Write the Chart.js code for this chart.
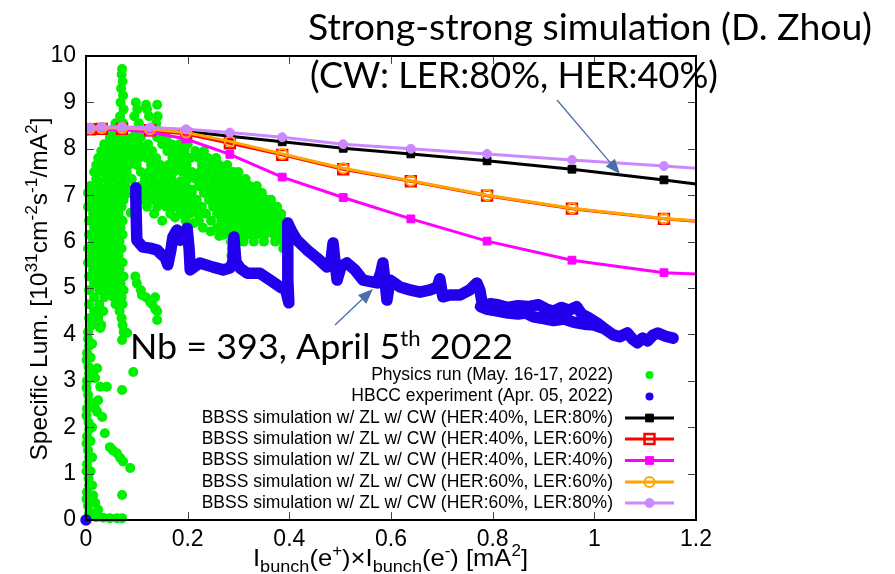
<!DOCTYPE html>
<html>
<head>
<meta charset="utf-8">
<script src="https://cdn.jsdelivr.net/npm/chart.js@4.4.0/dist/chart.umd.min.js"></script>
<style>
html, body { margin: 0; padding: 0; background: #fff; }
</style>
</head>
<body>
<canvas id="lumi" width="895" height="574"></canvas>
<script>
// axis ticks
var xTicks = [0, 0.2, 0.4, 0.6, 0.8, 1.0, 1.2];
var yTicks = [0, 1, 2, 3, 4, 5, 6, 7, 8, 9, 10];

// simulation scan points (bunch current product); last entry is where the curve leaves the frame
var simX = [0.008, 0.031, 0.071, 0.126, 0.197, 0.283, 0.386, 0.506, 0.639, 0.789, 0.956, 1.137, 1.2];
var simH40L80 = [8.45, 8.45, 8.45, 8.43, 8.38, 8.27, 8.15, 8.01, 7.89, 7.74, 7.56, 7.33, 7.24];
var simH40L60 = [8.42, 8.43, 8.43, 8.40, 8.32, 8.12, 7.87, 7.56, 7.30, 6.99, 6.71, 6.49, 6.44];
var simH40L40 = [8.42, 8.42, 8.41, 8.36, 8.21, 7.88, 7.39, 6.95, 6.49, 6.01, 5.60, 5.33, 5.30];
var simH60L60 = [8.44, 8.45, 8.45, 8.42, 8.35, 8.16, 7.89, 7.58, 7.31, 7.00, 6.72, 6.50, 6.45];
var simH60L80 = [8.45, 8.47, 8.47, 8.46, 8.42, 8.35, 8.25, 8.10, 8.00, 7.89, 7.76, 7.63, 7.58];

// HBCC experiment, Apr. 05 2022 (trace of the measured points; null starts a new stretch)
var hbccRun = [
  [0, 0], [0.05, null],
  [0.098, 7.16], [0.098, 6.90], [0.100, 6.03], [0.112, 5.88], [0.126, 5.86], [0.140, 5.82],
  [0.146, 5.75], [0.156, 5.65], [0.161, 5.50], [0.167, 5.82], [0.171, 6.10], [0.179, 6.25],
  [0.185, 6.03], [0.191, 6.14], [0.199, 6.29], [0.203, 5.82], [0.205, 5.39], [0.224, 5.54],
  [0.250, 5.45], [0.270, 5.39], [0.283, 5.43], [0.289, 5.56], [0.291, 6.10], [0.295, 5.56],
  [0.303, 5.43], [0.317, 5.32], [0.342, 5.32], [0.362, 5.17], [0.382, 5.02], [0.393, 4.96],
  [0.399, 4.68], [0.397, 5.17], [0.397, 6.40], [0.405, 6.21], [0.415, 6.03], [0.435, 5.82],
  [0.454, 5.65], [0.474, 5.45], [0.482, 5.60], [0.486, 5.97], [0.490, 5.56], [0.494, 5.17],
  [0.502, 5.47], [0.513, 5.54], [0.529, 5.39], [0.545, 5.17], [0.573, 5.11], [0.580, 5.34],
  [0.584, 5.54], [0.588, 5.17], [0.592, 4.74], [0.598, 5.17], [0.618, 5.02], [0.637, 4.96],
  [0.657, 4.91], [0.677, 4.96], [0.691, 5.02], [0.696, 5.20], [0.702, 4.81], [0.716, 4.85],
  [0.736, 4.85], [0.755, 4.96], [0.769, 5.11], [0.775, 4.95], [0.780, 4.62], [0.795, 4.66],
  [0.810, 4.64], [0.830, 4.58], [0.850, 4.62], [0.870, 4.60], [0.890, 4.64], [0.905, 4.55],
  [0.920, 4.50], [0.935, 4.58], [0.950, 4.52], [0.965, 4.60], [0.975, 4.44], [0.990, 4.35],
  [1.005, 4.25], [1.020, 4.12], [1.037, 3.99], [1.050, 3.95], [1.065, 4.03], [1.075, 3.90],
  [1.085, 3.82], [1.095, 3.92], [1.105, 3.86], [1.115, 3.98], [1.125, 4.03], [1.140, 3.96],
  [1.155, 3.92],
  [1.16, null],
  [0.776, 4.60], [0.790, 4.54], [0.810, 4.50], [0.830, 4.46], [0.850, 4.44], [0.865, 4.46],
  [0.880, 4.38], [0.900, 4.34], [0.920, 4.30], [0.940, 4.33], [0.960, 4.26], [0.980, 4.22],
  [1.000, 4.20], [1.015, 4.14]
];

// Physics run, May 16-17 2022: scattered points
var physicsRun = [
  [0.001, 0.02], [0.004, 0.3], [0.002, 0.6], [0.005, 0.9], [0.002, 1.2], [0.004, 1.5], [0.002, 1.8],
  [0.005, 2.1], [0.002, 2.4], [0.004, 2.7], [0.002, 3.0], [0.005, 3.3], [0.002, 3.6], [0.004, 3.9],
  [0.006, 0.15], [0.001, 0.45], [0.006, 0.75], [0.001, 1.05], [0.006, 1.35], [0.001, 1.65],
  [0.006, 1.95], [0.001, 2.25], [0.006, 2.55], [0.001, 2.85], [0.006, 3.15], [0.001, 3.45],
  [0.006, 3.75],
  [0.009, 0.15], [0.02, 0.06], [0.034, 0.05], [0.047, 0.04], [0.061, 0.04], [0.071, 0.04],
  [0.024, 0.22], [0.018, 0.37], [0.014, 0.53], [0.012, 0.75], [0.008, 0.45], [0.009, 1.05],
  [0.012, 1.35], [0.009, 1.7], [0.012, 2.0], [0.071, 0.54],
  [0.022, 2.33], [0.032, 2.22], [0.024, 2.58], [0.014, 2.52], [0.018, 2.4], [0.028, 2.87],
  [0.041, 2.87], [0.018, 3.06], [0.022, 3.27], [0.014, 3.17], [0.009, 3.5], [0.012, 3.8],
  [0.028, 4.14], [0.024, 4.38],
  [0.037, 1.87], [0.047, 1.57], [0.053, 1.5], [0.061, 1.44], [0.067, 1.34], [0.073, 1.26], [0.087, 1.12],
  [0.071, 2.8], [0.071, 3.88], [0.093, 3.19], [0.081, 4.03],
  [0.140, 4.31], [0.136, 4.55], [0.126, 4.70], [0.110, 4.85],
  [0.271, 7.60], [0.260, 7.62], [0.300, 7.20], [0.118, 8.95], [0.140, 8.95],
  [0.150, 6.45], [0.175, 6.52], [0.212, 6.40], [0.245, 6.22], [0.262, 6.12], [0.155, 7.48],
  [0.186, 7.30], [0.232, 7.48], [0.208, 7.12], [0.098, 6.55], [0.088, 6.62]
];

// Physics run, dense part: one row per luminosity level, listing the currents seen
var physicsRows = [
  [9.72, [0.071]],
  [9.6, [0.070]],
  [9.45, [0.072]],
  [9.3, [0.069]],
  [9.15, [0.073]],
  [9.0, [0.068, 0.098]],
  [8.85, [0.074, 0.101, 0.120]],
  [8.7, [0.067, 0.095, 0.124, 0.141]],
  [8.55, [0.058, 0.073, 0.104, 0.138]],
  [8.4, [0.051, 0.068, 0.097, 0.117, 0.142]],
  [8.25, [0.047, 0.063, 0.076, 0.092, 0.108, 0.140, 0.158]],
  [8.1, [0.036, 0.052, 0.070, 0.088, 0.104, 0.122, 0.150, 0.168, 0.184, 0.200]],
  [7.95, [0.030, 0.046, 0.062, 0.078, 0.095, 0.112, 0.130, 0.160, 0.176, 0.194, 0.215, 0.232]],
  [7.8, [0.024, 0.040, 0.056, 0.072, 0.088, 0.104, 0.120, 0.138, 0.170, 0.188, 0.206, 0.222, 0.240, 0.256]],
  [7.65, [0.020, 0.036, 0.052, 0.068, 0.084, 0.100, 0.128, 0.146, 0.162, 0.180, 0.198, 0.228, 0.246, 0.262, 0.278]],
  [7.5, [0.016, 0.032, 0.048, 0.064, 0.080, 0.108, 0.124, 0.140, 0.172, 0.190, 0.208, 0.224, 0.240, 0.258, 0.274, 0.290, 0.300]],
  [7.35, [0.020, 0.038, 0.056, 0.072, 0.090, 0.116, 0.134, 0.152, 0.168, 0.200, 0.216, 0.232, 0.250, 0.266, 0.282, 0.298, 0.314]],
  [7.2, [0.008, 0.026, 0.044, 0.062, 0.078, 0.108, 0.126, 0.142, 0.160, 0.178, 0.196, 0.222, 0.240, 0.256, 0.272, 0.290, 0.306, 0.322, 0.336]],
  [7.05, [0.004, 0.020, 0.036, 0.052, 0.070, 0.086, 0.118, 0.136, 0.154, 0.172, 0.190, 0.208, 0.232, 0.250, 0.266, 0.282, 0.298, 0.314, 0.330, 0.346]],
  [6.9, [0.012, 0.028, 0.044, 0.060, 0.074, 0.110, 0.128, 0.146, 0.164, 0.182, 0.200, 0.218, 0.242, 0.258, 0.274, 0.290, 0.306, 0.322, 0.338, 0.354, 0.364]],
  [6.75, [0.004, 0.022, 0.040, 0.056, 0.070, 0.120, 0.140, 0.158, 0.176, 0.194, 0.210, 0.228, 0.250, 0.266, 0.282, 0.298, 0.314, 0.330, 0.346, 0.362, 0.376]],
  [6.6, [0.014, 0.030, 0.048, 0.064, 0.134, 0.166, 0.186, 0.204, 0.220, 0.236, 0.258, 0.274, 0.290, 0.306, 0.322, 0.338, 0.354, 0.370, 0.384]],
  [6.45, [0.006, 0.024, 0.040, 0.058, 0.072, 0.196, 0.222, 0.246, 0.266, 0.282, 0.298, 0.314, 0.330, 0.346, 0.362, 0.378, 0.388]],
  [6.3, [0.016, 0.034, 0.050, 0.068, 0.230, 0.258, 0.276, 0.292, 0.310, 0.326, 0.342, 0.358, 0.374, 0.388]],
  [6.15, [0.006, 0.024, 0.042, 0.060, 0.072, 0.270, 0.286, 0.302, 0.318, 0.336, 0.352, 0.370, 0.386]],
  [6.0, [0.014, 0.032, 0.050, 0.066, 0.285, 0.310, 0.330, 0.350, 0.372, 0.388]],
  [5.85, [0.004, 0.020, 0.038, 0.056, 0.070, 0.287, 0.388]],
  [5.7, [0.012, 0.030, 0.048, 0.064, 0.286]],
  [5.55, [0.004, 0.022, 0.040, 0.058, 0.072, 0.287]],
  [5.4, [0.014, 0.032, 0.050, 0.066]],
  [5.25, [0.006, 0.024, 0.042, 0.060, 0.074, 0.097]],
  [5.1, [0.016, 0.034, 0.052, 0.068, 0.100]],
  [4.95, [0.006, 0.026, 0.044, 0.062, 0.074, 0.108]],
  [4.8, [0.016, 0.036, 0.054, 0.070, 0.118, 0.136]],
  [4.65, [0.006, 0.026, 0.058, 0.072, 0.130]],
  [4.5, [0.016, 0.034, 0.066, 0.140]],
  [4.35, [0.006, 0.024, 0.070]],
  [4.2, [0.012, 0.030, 0.072]],
  [4.05, [0.004, 0.074]]
];

var GREEN = '#00f000';
var BLUE = '#2200ee';
var fontFamily = "'Liberation Sans', Arial, sans-serif";
var noteFamily = "Lato, 'Open Sans', sans-serif";

function pairs(list) {
  return list.map(function(p) { return { x: p[0], y: p[1] }; });
}

function physicsPoints() {
  var pts = pairs(physicsRun);
  physicsRows.forEach(function(row) {
    row[1].forEach(function(x) { pts.push({ x: x, y: row[0] }); });
  });
  return pts;
}

function simData(values) {
  return simX.map(function(x, i) { return { x: x, y: values[i] }; });
}

// markers on every scan point except the frame crossing
function simRadius(r) {
  return function(c) { return c.dataIndex === simX.length - 1 ? 0 : r; };
}

var series = [
  { label: 'BBSS simulation w/ ZL w/ CW (HER:40%, LER:80%)', values: simH40L80, color: '#000000',
    pointStyle: 'rect', radius: 5.5, fill: '#000000', pointBorder: 1, order: 5 },
  { label: 'BBSS simulation w/ ZL w/ CW (HER:40%, LER:60%)', values: simH40L60, color: '#ff0000',
    pointStyle: 'rect', radius: 7, fill: 'rgba(0,0,0,0)', pointBorder: 2.5, order: 4 },
  { label: 'BBSS simulation w/ ZL w/ CW (HER:40%, LER:40%)', values: simH40L40, color: '#ff00ff',
    pointStyle: 'rect', radius: 5.5, fill: '#ff00ff', pointBorder: 1, order: 3 },
  { label: 'BBSS simulation w/ ZL w/ CW (HER:60%, LER:60%)', values: simH60L60, color: '#ffa500',
    pointStyle: 'circle', radius: 5, fill: 'rgba(0,0,0,0)', pointBorder: 2, order: 2 },
  { label: 'BBSS simulation w/ ZL w/ CW (HER:60%, LER:80%)', values: simH60L80, color: '#cc88ff',
    pointStyle: 'circle', radius: 4.5, fill: '#cc88ff', pointBorder: 1, order: 1 }
];

var datasets = [
  { label: 'Physics run (May. 16-17, 2022)', data: physicsPoints(), showLine: false,
    pointRadius: 5, pointBackgroundColor: GREEN, pointBorderWidth: 0, order: 7, clip: false },
  { label: 'HBCC experiment (Apr. 05, 2022)', data: pairs(hbccRun), showLine: true, spanGaps: false,
    borderColor: BLUE, borderWidth: 11.5, borderJoinStyle: 'round', borderCapStyle: 'round',
    pointRadius: function(c) { return c.dataIndex === 0 ? 5 : 0; },
    pointBackgroundColor: BLUE, pointBorderWidth: 0, order: 6, clip: false }
];

series.forEach(function(s) {
  datasets.push({
    label: s.label, data: simData(s.values), showLine: true,
    borderColor: s.color, borderWidth: 3,
    pointStyle: s.pointStyle, pointRadius: simRadius(s.radius),
    pointBackgroundColor: s.fill, pointBorderColor: s.color, pointBorderWidth: s.pointBorder,
    order: s.order
  });
});

// draw a row of text pieces (normal / super / subscript) from a start point
function drawRuns(ctx, runs, family, x, y, align, fitWidth) {
  var widths = runs.map(function(r) {
    ctx.font = r[1] + 'px ' + family;
    return ctx.measureText(r[0]).width;
  });
  var total = widths.reduce(function(a, b) { return a + b; }, 0);
  var sx = fitWidth ? fitWidth / total : 1;
  var x0 = align === 'center' ? x - total * sx / 2 : x;
  ctx.save();
  ctx.translate(x0, y);
  ctx.scale(sx, 1);
  ctx.textAlign = 'left';
  ctx.textBaseline = 'alphabetic';
  var cx = 0;
  runs.forEach(function(r, i) {
    ctx.font = r[1] + 'px ' + family;
    ctx.fillText(r[0], cx, r[2]);
    cx += widths[i];
  });
  ctx.restore();
}

function drawArrow(ctx, x1, y1, x2, y2) {
  var ang = Math.atan2(y2 - y1, x2 - x1);
  var len = 15, half = 6;
  var bx = x2 - len * Math.cos(ang), by = y2 - len * Math.sin(ang);
  ctx.save();
  ctx.strokeStyle = '#4a6ea8';
  ctx.fillStyle = '#4a6ea8';
  ctx.lineWidth = 1.3;
  ctx.beginPath();
  ctx.moveTo(x1, y1);
  ctx.lineTo(bx, by);
  ctx.stroke();
  ctx.beginPath();
  ctx.moveTo(x2, y2);
  ctx.lineTo(bx - half * Math.sin(ang), by + half * Math.cos(ang));
  ctx.lineTo(bx + half * Math.sin(ang), by - half * Math.cos(ang));
  ctx.closePath();
  ctx.fill();
  ctx.restore();
}

var framePlugin = {
  id: 'frame',
  afterDatasetsDraw: function(chart) {
    var ctx = chart.ctx, a = chart.chartArea;
    var xs = chart.scales.x, ys = chart.scales.y;
    ctx.save();
    ctx.strokeStyle = '#444';
    ctx.lineWidth = 1;
    xTicks.slice(1, -1).forEach(function(v) {
      var px = Math.round(xs.getPixelForValue(v)) + 0.5;
      ctx.beginPath();
      ctx.moveTo(px, a.bottom); ctx.lineTo(px, a.bottom - 8);
      ctx.moveTo(px, a.top); ctx.lineTo(px, a.top + 8);
      ctx.stroke();
    });
    yTicks.slice(1, -1).forEach(function(v) {
      var py = Math.round(ys.getPixelForValue(v)) + 0.5;
      ctx.beginPath();
      ctx.moveTo(a.left, py); ctx.lineTo(a.left + 8, py);
      ctx.moveTo(a.right, py); ctx.lineTo(a.right - 8, py);
      ctx.stroke();
    });
    ctx.strokeStyle = '#000';
    ctx.lineWidth = 2;
    ctx.strokeRect(a.left, a.top, a.right - a.left, a.bottom - a.top);
    ctx.restore();
  },
  afterDraw: function(chart) {
    var ctx = chart.ctx;
    ctx.save();
    ctx.fillStyle = '#000';

    // axis titles
    drawRuns(ctx, [
      ['I', 24, 0], ['bunch', 17, 6], ['(e', 24, 0], ['+', 16, -10], [')\u00d7I', 24, 0],
      ['bunch', 17, 6], ['(e', 24, 0], ['-', 16, -10], [') [mA', 24, 0], ['2', 16, -10], [']', 24, 0]
    ], fontFamily, 390.5, 566, 'center', 275);

    ctx.save();
    ctx.translate(47, 289);
    ctx.rotate(-Math.PI / 2);
    drawRuns(ctx, [
      ['Specific Lum. [10', 24, 0], ['31', 17, -10], ['cm', 24, 0], ['-2', 17, -10], ['s', 24, 0],
      ['-1', 17, -10], ['/mA', 24, 0], ['2', 17, -10], [']', 24, 0]
    ], fontFamily, 0, 0, 'center', 343);
    ctx.restore();

    // legend, gnuplot style: right-aligned text with sample to the right
    var rowY = [375, 396.5, 418, 439, 460.5, 482, 503];
    var textRight = 613, sampleL = 625, sampleR = 674, sampleC = 649.5;
    ctx.font = '17.5px ' + fontFamily;
    ctx.textAlign = 'right';
    ctx.textBaseline = 'middle';
    ctx.fillStyle = '#000';
    ctx.fillText(datasets[0].label, textRight, rowY[0]);
    ctx.fillText(datasets[1].label, textRight, rowY[1]);
    ctx.fillStyle = GREEN;
    ctx.beginPath(); ctx.arc(sampleC, rowY[0], 4, 0, Math.PI * 2); ctx.fill();
    ctx.fillStyle = BLUE;
    ctx.beginPath(); ctx.arc(sampleC, rowY[1], 4, 0, Math.PI * 2); ctx.fill();
    series.forEach(function(s, i) {
      var y = rowY[i + 2];
      ctx.fillStyle = '#000';
      ctx.font = '17.5px ' + fontFamily;
      ctx.fillText(s.label, textRight, y);
      ctx.strokeStyle = s.color;
      ctx.lineWidth = 3;
      ctx.beginPath(); ctx.moveTo(sampleL, y); ctx.lineTo(sampleR, y); ctx.stroke();
      ctx.fillStyle = s.fill;
      ctx.lineWidth = s.pointBorder;
      Chart.helpers.drawPoint(ctx, { pointStyle: s.pointStyle, radius: s.radius, rotation: 0, borderWidth: s.pointBorder }, sampleC, y);
    });

    // slide notes
    ctx.fillStyle = '#000';
    drawRuns(ctx, [['Strong-strong simulation (D. Zhou)', 36, 0]], noteFamily, 308, 40, 'left', 564);
    drawRuns(ctx, [['(CW: LER:80%, HER:40%)', 36, 0]], noteFamily, 310, 88, 'left', 408);
    drawRuns(ctx, [['Nb = 393, April 5', 34, 0], ['th', 21, -13], [' 2022', 34, 0]], noteFamily, 130, 359, 'left', 383);
    drawArrow(ctx, 557, 100, 620, 174);
    drawArrow(ctx, 335, 325, 373, 289);
    ctx.restore();
  }
};

var canvas = document.getElementById('lumi');
var chart = new Chart(canvas.getContext('2d'), {
  type: 'scatter',
  data: { datasets: datasets },
  options: {
    responsive: false,
    animation: false,
    devicePixelRatio: 1,
    layout: { padding: { top: 56, right: 199, left: 0, bottom: 0 } },
    plugins: { legend: { display: false }, tooltip: { enabled: false } },
    scales: {
      x: {
        type: 'linear', min: 0, max: 1.2,
        afterBuildTicks: function(s) { s.ticks = xTicks.map(function(v) { return { value: v }; }); },
        afterFit: function(s) { s.height = 54; },
        grid: { display: false, drawTicks: false },
        border: { display: false },
        ticks: {
          color: '#000', padding: 6, maxRotation: 0,
          font: { family: fontFamily, size: 23 },
          callback: function(v) { return String(+Number(v).toFixed(1)); }
        }
      },
      y: {
        type: 'linear', min: 0, max: 10,
        afterBuildTicks: function(s) { s.ticks = yTicks.map(function(v) { return { value: v }; }); },
        afterFit: function(s) { s.width = 86; },
        grid: { display: false, drawTicks: false },
        border: { display: false },
        ticks: {
          color: '#000', padding: 10,
          font: { family: fontFamily, size: 23 }
        }
      }
    }
  },
  plugins: [framePlugin]
});
</script>
</body>
</html>
